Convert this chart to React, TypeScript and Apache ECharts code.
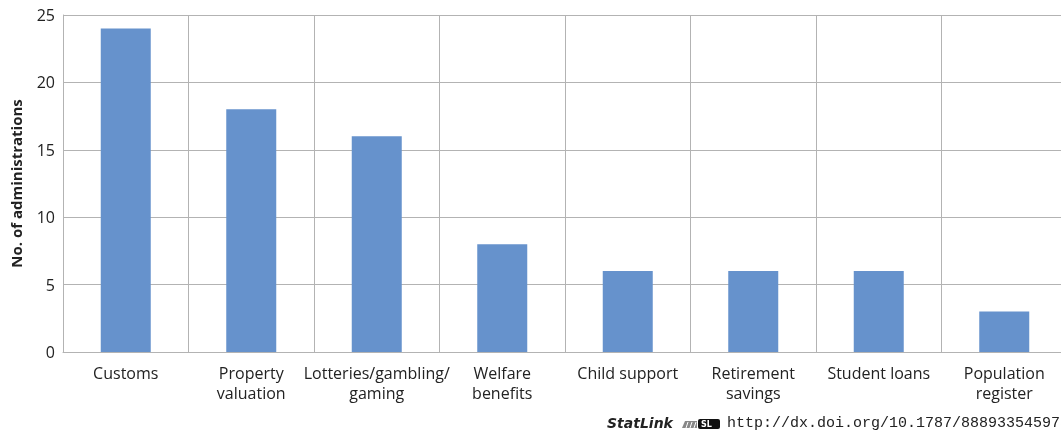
import React, { useEffect, useRef } from "react";
import * as echarts from "echarts";

const categories = [
  "Customs",
  "Property\nvaluation",
  "Lotteries/gambling/\ngaming",
  "Welfare\nbenefits",
  "Child support",
  "Retirement\nsavings",
  "Student loans",
  "Population\nregister",
];
const administrations = [24, 18, 16, 8, 6, 6, 6, 3];
const yTicks = { min: 0, max: 25, interval: 5 };
const yAxisName = "No. of administrations";
const statLinkLabel = "StatLink";
const statLinkUrl = "http://dx.doi.org/10.1787/888933545975";

export default function App() {
  const ref = useRef<HTMLDivElement>(null);
  useEffect(() => {
    if (!ref.current) return;
    const chart = echarts.init(ref.current, undefined, { renderer: "svg" });
    const gridColor = "#b3b3b3";
    chart.setOption({
      animation: false,
      textStyle: { fontFamily: "Open Sans" },
      grid: { left: 63, right: 0, top: 15, bottom: 82, containLabel: false },
      xAxis: {
        type: "category",
        data: categories,
        axisLine: { show: true, lineStyle: { color: gridColor, width: 1 } },
        axisTick: { show: false },
        splitLine: { show: true, lineStyle: { color: gridColor, width: 1 } },
        axisLabel: {
          color: "#222",
          fontSize: 16,
          lineHeight: 20,
          margin: 11,
          interval: 0,
          fontFamily: "Open Sans",
        },
      },
      yAxis: {
        type: "value",
        min: yTicks.min,
        max: yTicks.max,
        interval: yTicks.interval,
        name: yAxisName,
        nameLocation: "middle",
        nameGap: 40,
        nameTextStyle: { color: "#222", fontSize: 15, fontWeight: "bold", fontFamily: "Open Sans" },
        axisLine: { show: true, lineStyle: { color: gridColor, width: 1 } },
        axisTick: { show: false },
        splitLine: { show: true, lineStyle: { color: gridColor, width: 1 } },
        axisLabel: { color: "#222", fontSize: 16, margin: 8, fontFamily: "Open Sans" },
      },
      series: [
        {
          type: "bar",
          data: administrations,
          barWidth: 50,
          itemStyle: { color: "#6692cc" },
        },
      ],
      graphic: [
        {
          type: "text",
          left: 607,
          top: 416,
          style: {
            text: statLinkLabel,
            font: "italic bold 14px 'DejaVu Sans'",
            fill: "#222",
          },
        },
        {
          type: "group",
          left: 682,
          top: 419,
          children: [
            { type: "polygon", shape: { points: [[0, 9], [3, 2], [15, 2], [15, 9]] }, style: { fill: "#888" } },
            { type: "line", shape: { x1: 4, y1: 9, x2: 6, y2: 3 }, style: { stroke: "#fff", lineWidth: 1 } },
            { type: "line", shape: { x1: 8, y1: 9, x2: 10, y2: 3 }, style: { stroke: "#fff", lineWidth: 1 } },
            { type: "line", shape: { x1: 12, y1: 9, x2: 14, y2: 3 }, style: { stroke: "#fff", lineWidth: 1 } },
            { type: "rect", shape: { x: 16, y: 0, width: 22, height: 10, r: 2 }, style: { fill: "#111" } },
            { type: "text", x: 19, y: 1, style: { text: "SL", font: "bold 8px 'DejaVu Sans'", fill: "#fff" } },
          ],
        },
        {
          type: "text",
          left: 727,
          top: 416,
          style: {
            text: statLinkUrl,
            font: "15px 'Liberation Mono'",
            fill: "#222",
          },
        },
      ],
    });
    return () => chart.dispose();
  }, []);
  return (
    <div
      ref={ref}
      style={{ position: "fixed", left: 0, top: 0, width: 1067, height: 434 }}
    />
  );
}
